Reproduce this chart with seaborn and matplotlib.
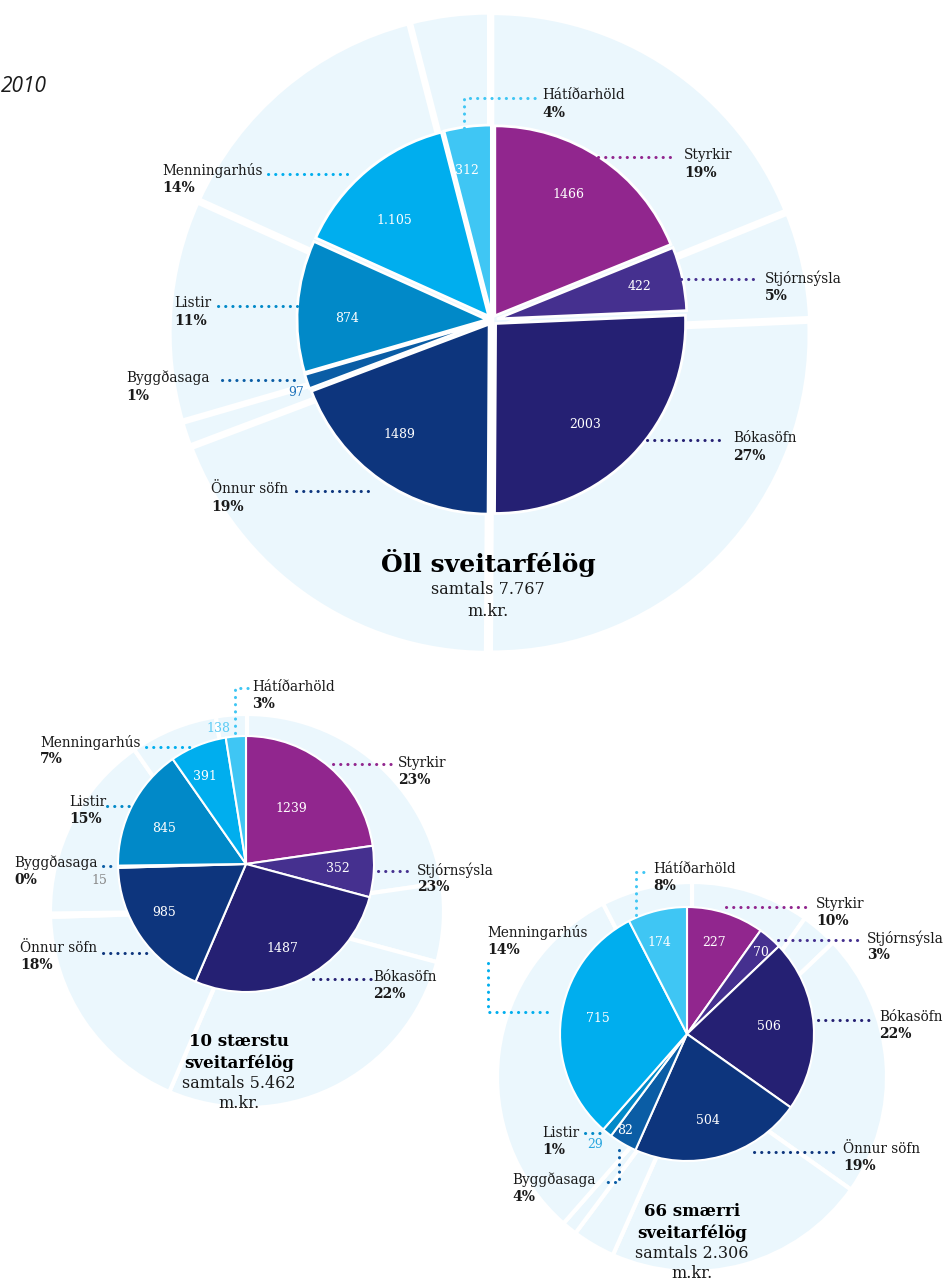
import matplotlib
matplotlib.use("Agg")
import matplotlib.pyplot as plt
import seaborn as sns

W, H = 950, 1281

# ---------------- data ----------------
categories = ["Styrkir", "Stjórnsýsla", "Bókasöfn", "Önnur söfn",
              "Byggðasaga", "Listir", "Menningarhús", "Hátíðarhöld"]
values_all = [1466, 422, 2003, 1489, 97, 874, 1105, 312]
values_top10 = [1239, 352, 1487, 985, 15, 845, 391, 138]
values_small66 = [227, 70, 506, 504, 82, 29, 715, 174]
pct_all = ["19%", "5%", "27%", "19%", "1%", "11%", "14%", "4%"]
pct_top10 = ["23%", "23%", "22%", "18%", "0%", "15%", "7%", "3%"]
pct_small66 = ["10%", "3%", "22%", "19%", "4%", "1%", "14%", "8%"]
vtext_all = ["1466", "422", "2003", "1489", "97", "874", "1.105", "312"]
vtext_top10 = [str(v) for v in values_top10]
vtext_small66 = [str(v) for v in values_small66]
titles = [["Öll sveitarfélög"], ["10 stærstu", "sveitarfélög"], ["66 smærri", "sveitarfélög"]]
totals = ["samtals 7.767", "samtals 5.462", "samtals 2.306"]
unit = "m.kr."
year_text = "2010"

# ---------------- style ----------------
sns.set_theme(style="white")
plt.rcParams["font.family"] = ["DejaVu Serif", "DejaVu Sans"]

palette = sns.color_palette(["#91268E", "#45308F", "#252073", "#0D357D",
                             "#0B5DA5", "#0189C8", "#00AEEE", "#3FC6F4"])
bg_color = "#EBF7FD"
W_ = "white"

layout = [
    dict(values=values_all, pct=pct_all, vtext=vtext_all,
         center=(492, 320), r=190, explode=5, edge=2.0,
         bg_center=(490, 333), bg_r=318, bg_explode=3, bg_edge=3.8,
         title_x=488, title_y=[563], title_size=18, total_y=590, unit_y=612, total_size=11.5,
         val_pos=[(568, 194), (639, 287), (585, 424), (399, 435), (296, 392), (347, 318), (394, 221), (467, 170)],
         val_col=[W_, W_, W_, W_, "#1F74BB", W_, W_, W_],
         lab_pos=[(684, 155), (765, 278), (733, 438), (211, 489), (126, 378), (174, 303), (162, 170), (542, 95)],
         pct_dy=18,
         leaders=[[(598, 157), (675, 157)], [(681, 279), (756, 279)], [(647, 440), (724, 440)],
                  [(296, 491), (374, 491)], [(222, 380), (299, 380)], [(218, 306), (297, 306)],
                  [(268, 174), (347, 174)], [(464, 128), (464, 98), (537, 98)]]),
    dict(values=values_top10, pct=pct_top10, vtext=vtext_top10,
         center=(246, 864), r=128, explode=0, edge=1.5,
         bg_center=(247, 911), bg_r=197, bg_explode=0, bg_edge=3,
         title_x=239, title_y=[1041, 1063], title_size=12, total_y=1083, unit_y=1104, total_size=11.5,
         val_pos=[(291, 808), (338, 868), (282, 948), (164, 912), (99, 880), (164, 829), (205, 777), (218, 728)],
         val_col=[W_, W_, W_, W_, "#888888", W_, W_, "#5BCBF5"],
         lab_pos=[(398, 763), (417, 870), (373, 977), (20, 948), (14, 863), (69, 802), (40, 742), (252, 687)],
         pct_dy=17,
         leaders=[[(333, 764), (391, 764)], [(378, 871), (408, 871)], [(313, 979), (371, 979)],
                  [(103, 953), (148, 953)], [(103, 866), (113, 866)], [(107, 806), (131, 806)],
                  [(146, 747), (191, 747)], [(235, 733), (235, 688), (249, 688)]]),
    dict(values=values_small66, pct=pct_small66, vtext=vtext_small66,
         center=(687, 1034), r=127, explode=0, edge=1.5,
         bg_center=(692, 1077), bg_r=195, bg_explode=0, bg_edge=3,
         title_x=692, title_y=[1212, 1233], title_size=12, total_y=1253, unit_y=1274, total_size=11.5,
         val_pos=[(714, 943), (761, 952), (769, 1027), (708, 1121), (625, 1131), (595, 1144), (598, 1019), (659, 943)],
         val_col=[W_, W_, W_, W_, W_, "#29A6DF", W_, W_],
         lab_pos=[(816, 904), (867, 938), (879, 1017), (843, 1149), (512, 1180), (542, 1133), (487, 933), (653, 869)],
         pct_dy=17,
         leaders=[[(726, 907), (806, 907)], [(778, 940), (858, 940)], [(818, 1020), (875, 1020)],
                  [(754, 1152), (834, 1152)], [(619, 1150), (619, 1182), (604, 1182)], [(585, 1133), (600, 1133)],
                  [(488, 963), (488, 1012), (548, 1012)], [(636, 915), (636, 872), (650, 872)]]),
]

fig = plt.figure(figsize=(W / 100, H / 100), dpi=100)
ax = fig.add_axes([0, 0, 1, 1])


def Y(y):
    return H - y


for i, L in enumerate(layout):
    vals = L["values"]
    n = len(vals)
    # background pie (light ring), same angles, offset centre
    ax.pie(vals, startangle=90, counterclock=False, radius=L["bg_r"],
           center=(L["bg_center"][0], Y(L["bg_center"][1])),
           colors=[bg_color] * n, explode=[L["bg_explode"]] * n,
           wedgeprops=dict(edgecolor="white", linewidth=L["bg_edge"], zorder=1),
           frame=True)
    # main pie
    ax.pie(vals, startangle=90, counterclock=False, radius=L["r"],
           center=(L["center"][0], Y(L["center"][1])),
           colors=palette, explode=[L["explode"]] * n,
           wedgeprops=dict(edgecolor="white", linewidth=L["edge"], zorder=2),
           frame=True)
    # values inside slices
    for (x, y), t, c in zip(L["val_pos"], L["vtext"], L["val_col"]):
        ax.text(x, Y(y), t, color=c, fontsize=9, ha="center", va="center", zorder=6)
    # category labels and leaders
    for k in range(n):
        lx, ly = L["lab_pos"][k]
        ax.text(lx, Y(ly), categories[k], fontsize=9.8, color="#1a1a1a",
                ha="left", va="center", zorder=6)
        ax.text(lx, Y(ly + L["pct_dy"]), L["pct"][k], fontsize=10, fontweight="bold",
                color="#1a1a1a", ha="left", va="center", zorder=6)
        pts = L["leaders"][k]
        ax.plot([p[0] for p in pts], [Y(p[1]) for p in pts], color=palette[k],
                lw=2.2, linestyle=(0, (0.05, 2.3)), dash_capstyle="round",
                solid_capstyle="round", zorder=5)
    # titles
    for line, ty in zip(titles[i], L["title_y"]):
        ax.text(L["title_x"], Y(ty), line, fontsize=L["title_size"], fontweight="bold",
                color="black", ha="center", va="center", zorder=6)
    ax.text(L["title_x"], Y(L["total_y"]), totals[i], fontsize=L["total_size"],
            color="#1a1a1a", ha="center", va="center", zorder=6)
    ax.text(L["title_x"], Y(L["unit_y"]), unit, fontsize=L["total_size"],
            color="#1a1a1a", ha="center", va="center", zorder=6)

ax.text(1, Y(86), year_text, fontsize=15, style="italic", family=["Open Sans", "DejaVu Sans"],
        color="#1a1a1a", ha="left", va="center", zorder=6)

ax.set_xlim(0, W)
ax.set_ylim(0, H)
ax.set_aspect("equal")
ax.axis("off")
fig.savefig("out.png", dpi=100, facecolor="white")
